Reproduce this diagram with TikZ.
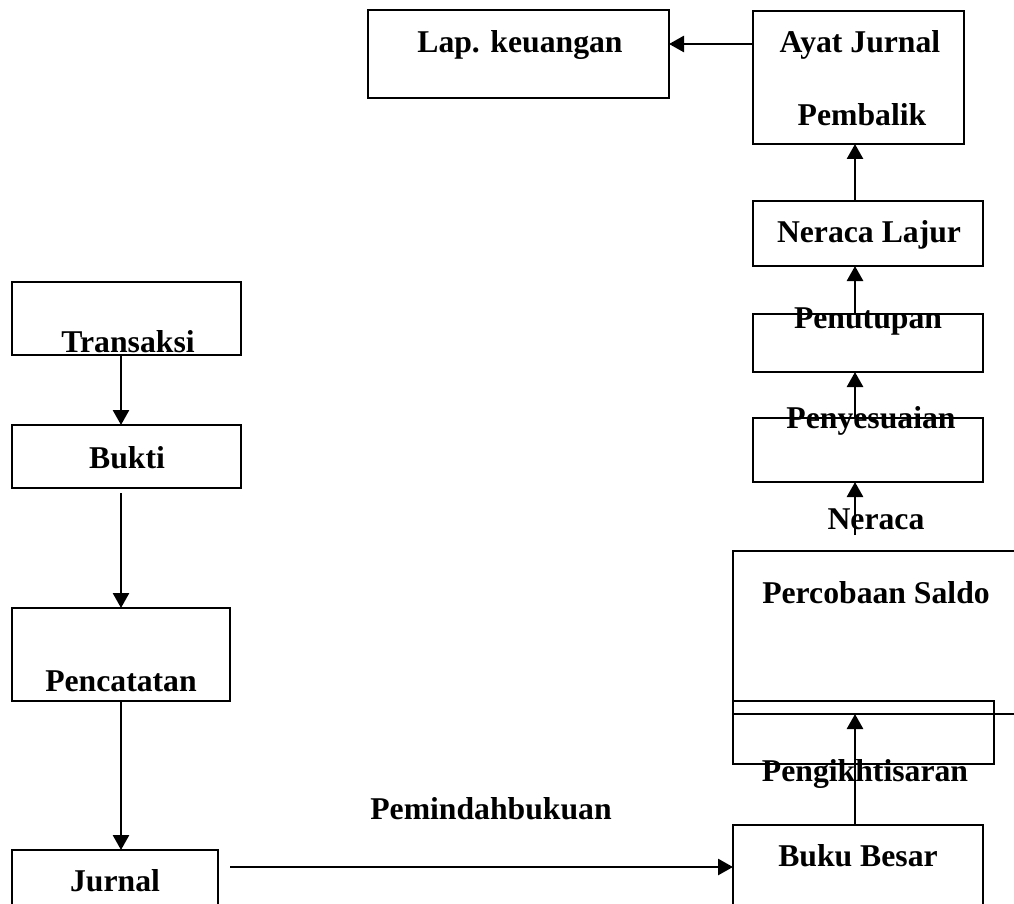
\documentclass[tikz,border=0pt]{standalone}
\usepackage{fontspec}
\setmainfont{Liberation Serif}
\usetikzlibrary{arrows.meta,calc}
\begin{document}
\begin{tikzpicture}[x=1pt,y=-1pt,
  box/.style={draw,line width=2.1pt,inner sep=0pt,outer sep=0pt},
  lbl/.style={font=\fontsize{31.7}{38}\selectfont\bfseries,inner sep=0pt,anchor=base},
  arr/.style={line width=2.7pt,-{Triangle[length=15pt,width=16pt]}}]
\useasboundingbox (0,0) rectangle (1014,904);
% boxes
\node[box,minimum width=301pt,minimum height=88pt] (lap) at (518.5,54) {};
\node[box,minimum width=211pt,minimum height=133pt] (ayat) at (858.5,77.5) {};
\node[box,minimum width=230pt,minimum height=65pt] (lajur) at (868,233.5) {};
\node[box,minimum width=230pt,minimum height=58pt] (tutup) at (868,343) {};
\node[box,minimum width=230pt,minimum height=64pt] (sesuai) at (868,450) {};
\node[box,minimum width=297pt,minimum height=163pt] (saldo) at (881.5,632.5) {};
\node[box,minimum width=261pt,minimum height=63pt] (ikhtisar) at (863.5,732.5) {};
\node[box,minimum width=250pt,minimum height=105pt] (buku) at (858,877.5) {};
\node[box,minimum width=229pt,minimum height=73pt] (transaksi) at (126.5,318.5) {};
\node[box,minimum width=229pt,minimum height=63pt] (bukti) at (126.5,456.5) {};
\node[box,minimum width=218pt,minimum height=93pt] (catat) at (121,654.5) {};
\node[box,minimum width=206pt,minimum height=80pt] (jurnal) at (115,890) {};
% labels
\node[lbl] (tLap) at (520,53) {Lap. keuangan};
\node[lbl] (tAyat1) at (860,53) {Ayat Jurnal};
\node[lbl] (tAyat2) at (862,126) {Pembalik};
\node[lbl] (tLajur) at (869,242) {Neraca Lajur};
\node[lbl] (tTutup) at (868,328) {Penutupan};
\node[lbl] (tSesuai) at (871,428) {Penyesuaian};
\node[lbl] (tNeraca) at (876,529) {Neraca};
\node[lbl] (tSaldo) at (876,603) {Percobaan Saldo};
\node[lbl] (tIkht) at (865,781) {Pengikhtisaran};
\node[lbl] (tBuku) at (858,866) {Buku Besar};
\node[lbl] (tTrans) at (128,352) {Transaksi};
\node[lbl] (tBukti) at (127,468) {Bukti};
\node[lbl] (tCatat) at (121,691) {Pencatatan};
\node[lbl] (tJurnal) at (115,891) {Jurnal};
\node[lbl] (tPindah) at (491,819) {Pemindahbukuan};
% connector helpers
\coordinate (col) at (855,0);
\coordinate (lcol) at (121,0);
\coordinate (nstart) at (855,535);
% connectors
\draw[arr] ($(ayat.north west)+(0,33)$) -- ($(lap.north east)+(0,34)$);
\draw[arr] (lajur.north -| col) -- (ayat.south -| col);
\draw[arr] (tutup.north -| col) -- (lajur.south -| col);
\draw[arr] (sesuai.north -| col) -- (tutup.south -| col);
\draw[arr] (nstart) -- (sesuai.south -| col);
\draw[arr] (buku.north -| col) -- (saldo.south -| col);
\draw[arr] (transaksi.south -| lcol) -- (bukti.north -| lcol);
\draw[arr] ($(bukti.south -| lcol)+(0,5)$) -- (catat.north -| lcol);
\draw[arr] (catat.south -| lcol) -- (jurnal.north -| lcol);
\draw[arr] ($(jurnal.north east)+(12,17)$) -- ($(buku.north west)+(0,42)$);
\end{tikzpicture}
\end{document}
